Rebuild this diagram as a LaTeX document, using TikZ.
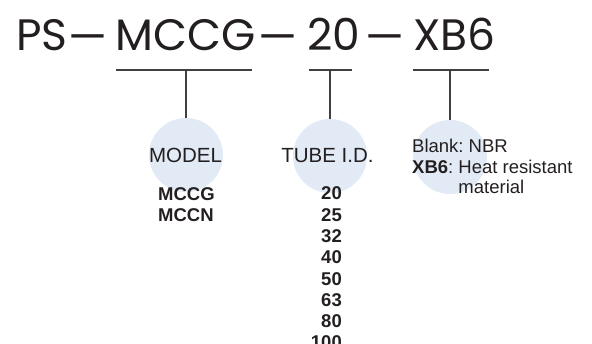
\documentclass[tikz,border=0pt]{standalone}
\usepackage{fontspec}
\setmainfont{Liberation Sans}
\newfontfamily\titlefont{Poppins}
\usepackage{xcolor}
\usepackage{tikz}
\usetikzlibrary{positioning}
\definecolor{bubbleblue}{HTML}{E2EAF5}
\definecolor{inkgray}{HTML}{231F20}
\definecolor{leadgray}{HTML}{404040}
\frenchspacing

\begin{document}
\begin{tikzpicture}[x=1pt, y=-1pt, inner sep=0pt,
  code/.style={font=\titlefont\fontsize{44}{44}\selectfont, text=inkgray, anchor=base west},
  bubble/.style={circle, fill=bubbleblue, minimum size=74pt},
  heading/.style={font=\fontsize{20.5}{22}\selectfont, text=inkgray, anchor=base},
  choices/.style={font=\bfseries\fontsize{18.5}{21.3}\selectfont, text=inkgray},
  lead/.style={draw=leadgray, line width=1.4pt}]
  \useasboundingbox (0,0) rectangle (592,344);

  % Kruhy
  \node[bubble] (cmodel) at (186,155) {};
  \node[bubble] (ctube) at (330,156) {};
  \node[bubble] (cmat) at (450,157) {};

  % Oznaceni
  \node[code] (ps) at (16,51) {PS};
  \node[code, anchor=base] (d1) at (88,53) {—};
  \node[code] (mccg) at (115,51) {MCCG};
  \node[code, anchor=base] (d2) at (278,53) {—};
  \node[code] (bore) at (307,51) {20};
  \node[code, anchor=base] (d3) at (385,53) {—};
  \node[code] (xb6) at (413,51) {XB6};

  % Podtrzeni a svisle cary
  \coordinate (u1a) at (116,70);
  \coordinate (u1b) at (252,70);
  \coordinate (u2a) at (309,70);
  \coordinate (u2b) at (352,70);
  \coordinate (u3a) at (413,70);
  \coordinate (u3b) at (489,70);
  \draw[lead] (u1a) -- (u1b);
  \draw[lead] (u2a) -- (u2b);
  \draw[lead] (u3a) -- (u3b);
  \draw[lead] (cmodel.north) -- (cmodel.north |- u1a);
  \draw[lead] (ctube.north) -- (ctube.north |- u2a);
  \draw[lead] (cmat.north) -- (cmat.north |- u3a);

  % Popisky (base = posledni radek)
  \node[heading] (model) at (185.5,163) {MODEL};
  \node[heading] (tube) at (327.5,163) {TUBE I.D.};
  \node[choices, align=left, anchor=base west] (models) at (158,222) {MCCG\\MCCN};
  \node[choices, align=right, anchor=base east] (sizes) at (342,349)
    {20\\25\\32\\40\\50\\63\\80\\100};
  \node[font=\fontsize{18.5}{20.5}\selectfont, text=inkgray, align=left, anchor=base west] (mat) at (412,194)
    {Blank: NBR\\\textbf{XB6}: Heat resistant\\\hphantom{\textbf{XB6}: }material};
\end{tikzpicture}
\end{document}
